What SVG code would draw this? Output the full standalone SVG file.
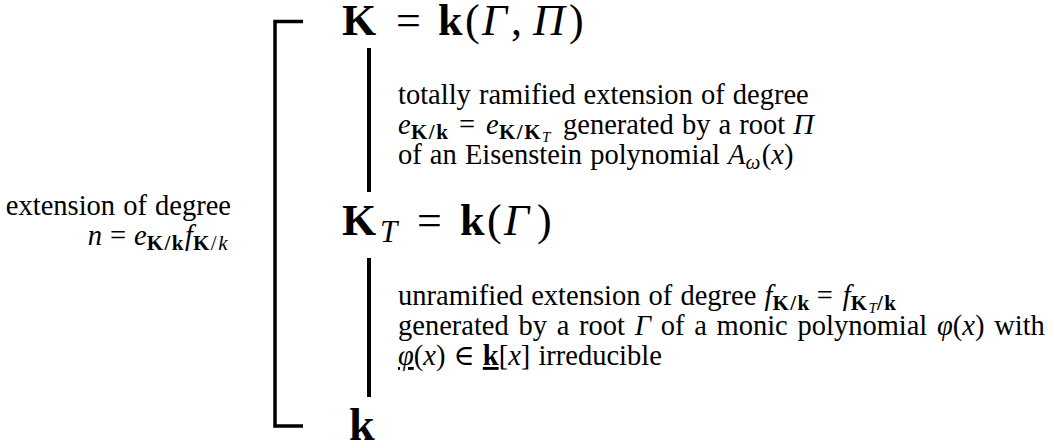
<svg xmlns="http://www.w3.org/2000/svg" width="1054" height="448" viewBox="0 0 1054 448">
<style>
text{font-family:"Liberation Serif","DejaVu Serif",serif;fill:#000}
.t{font-size:28.5px;word-spacing:1px}
.big{font-size:44px}
.b{font-weight:bold;font-style:normal}
.i{font-style:italic}
.s{font-size:21px;letter-spacing:1.5px;word-spacing:0}
.ss{font-size:15px;font-style:italic}
.ln{stroke:#000;fill:none}
</style>
<rect width="1054" height="448" fill="#fff"/>
<g id="bracket"><path class="ln" d="M303,21.5 H275 V426 H303" stroke-width="3.5"/></g>
<g id="connectors">
<line class="ln" x1="369" y1="48" x2="369" y2="192" stroke-width="4"/>
<line class="ln" x1="369" y1="258" x2="369" y2="397" stroke-width="4"/>
</g>
<g id="node-K"><text class="big" y="35"><tspan class="b" x="342">K</tspan><tspan x="396">=</tspan><tspan class="b" x="438">k</tspan><tspan x="465">(</tspan><tspan class="i" x="482">Γ</tspan><tspan x="511">,</tspan><tspan class="i" x="533">Π</tspan><tspan x="569">)</tspan></text></g>
<g id="node-KT"><text class="big" y="235"><tspan class="b" x="342">K</tspan><tspan class="i" style="font-size:31px" x="380" dy="7">T</tspan><tspan x="417" dy="-7">=</tspan><tspan class="b" x="460">k</tspan><tspan x="487">(</tspan><tspan class="i" x="504">Γ</tspan><tspan x="537">)</tspan></text></g>
<g id="node-k"><text class="b" x="349" y="440" style="font-size:46px">k</text></g>
<g id="label-top">
<text class="t" x="398" y="104">totally ramified extension of degree</text>
<text class="t" y="134"><tspan class="i" x="398">e</tspan><tspan class="b s" x="411" dy="5">K/k</tspan><tspan x="459" dy="-5">=</tspan><tspan class="i" x="486">e</tspan><tspan class="b s" x="499" dy="5">K/K</tspan><tspan class="ss" dy="3">T</tspan><tspan x="563" dy="-8">generated by a root </tspan><tspan class="i">Π</tspan></text>
<text class="t" x="398" y="164">of an Eisenstein polynomial <tspan class="i">A</tspan><tspan class="i s" dy="5">ω</tspan><tspan dy="-5">(</tspan><tspan class="i">x</tspan>)</text>
</g>
<g id="label-bottom">
<text class="t" x="398" y="305">unramified extension of degree <tspan class="i">f</tspan><tspan class="b s" dy="5">K/k</tspan><tspan dx="6" dy="-5">=</tspan><tspan class="i" dx="10">f</tspan><tspan class="b s" dy="5">K</tspan><tspan class="ss" dy="3">T</tspan><tspan class="b s" dy="-3">/k</tspan></text>
<text class="t" x="398" y="335" style="word-spacing:2.6px">generated by a root <tspan class="i">Γ</tspan> of a monic polynomial <tspan class="i">φ</tspan>(<tspan class="i">x</tspan>) with</text>
<text class="t" x="398" y="365"><tspan class="i" text-decoration="underline">φ</tspan>(<tspan class="i">x</tspan>) ∈ <tspan class="b" text-decoration="underline">k</tspan>[<tspan class="i">x</tspan>] irreducible</text>
</g>
<g id="label-left">
<text class="t" x="231" y="215" text-anchor="end">extension of degree</text>
<text class="t" x="229" y="245" text-anchor="end"><tspan class="i">n</tspan><tspan dx="8">=</tspan><tspan class="i" dx="8">e</tspan><tspan class="b s" dy="5">K/k</tspan><tspan class="i" dy="-5">f</tspan><tspan class="s" dy="5"><tspan class="b">K</tspan>/<tspan class="i">k</tspan></tspan></text>
</g>
</svg>
